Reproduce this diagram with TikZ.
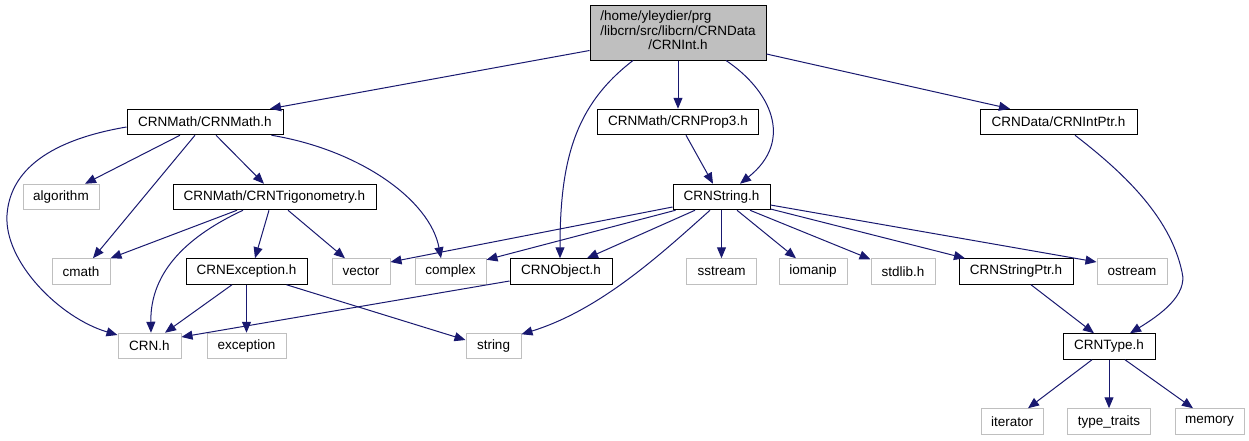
\documentclass[tikz,border=0pt]{standalone}
\usepackage{fontspec}
\setmainfont{Liberation Sans}
\usetikzlibrary{arrows.meta}
\definecolor{edgeblue}{HTML}{191970}
\definecolor{graybd}{HTML}{BFBFBF}
\begin{document}
\begin{tikzpicture}[x=1pt,y=-1pt,
  font=\fontsize{13.5}{14.5}\selectfont,
  file/.style={draw=black,line width=1pt,fill=white,minimum height=25.5pt,inner sep=0pt},
  sys/.style={draw=graybd,line width=1pt,fill=white,minimum height=25.5pt,inner sep=0pt},
  dep/.style={draw=edgeblue,line width=1pt,-{Triangle[length=11pt,width=9pt]}}]
\useasboundingbox[fill=white] (0,0) rectangle (1249,440);
% nodes
\node[draw=black,line width=1pt,fill=graybd,minimum width=176pt,minimum height=55pt,inner sep=0pt] (top) at (678,32.5)
  {\renewcommand{\arraystretch}{1}\begin{tabular}{@{}l@{}}/home/yleydier/prg\\/libcrn/src/libcrn/CRNData\\\multicolumn{1}{@{}c@{}}{/CRNInt.h}\end{tabular}};
\node[file,minimum width=156pt] (math) at (205,122) {CRNMath/CRNMath.h};
\node[file,minimum width=161pt] (prop3) at (678,122) {CRNMath/CRNProp3.h};
\node[file,minimum width=157pt] (intptr) at (1058.5,122) {CRNData/CRNIntPtr.h};
\node[sys,minimum width=76pt] (algorithm) at (61,197) {algorithm};
\node[file,minimum width=203pt] (trig) at (274.5,197) {CRNMath/CRNTrigonometry.h};
\node[file,minimum width=97pt] (strh) at (721.5,197) {CRNString.h};
\node[sys,minimum width=58pt] (cmath) at (81,271.5) {cmath};
\node[file,minimum width=121pt] (exc) at (246.5,271.5) {CRNException.h};
\node[sys,minimum width=58pt] (vector) at (361,271.5) {vector};
\node[sys,minimum width=71pt] (complex) at (450.5,271.5) {complex};
\node[file,minimum width=102pt] (object) at (561,271.5) {CRNObject.h};
\node[sys,minimum width=70pt] (sstream) at (721.5,271.5) {sstream};
\node[sys,minimum width=68pt] (iomanip) at (813,271.5) {iomanip};
\node[sys,minimum width=64pt] (stdlib) at (903,271.5) {stdlib.h};
\node[file,minimum width=114pt] (strptr) at (1016,271.5) {CRNStringPtr.h};
\node[sys,minimum width=70pt] (ostream) at (1132,271.5) {ostream};
\node[sys,minimum width=63pt] (crnh) at (149.5,346) {CRN.h};
\node[sys,minimum width=79pt] (exception) at (246.5,346) {exception};
\node[sys,minimum width=55pt] (string) at (493.5,346) {string};
\node[file,minimum width=92pt] (type) at (1109,346.5) {CRNType.h};
\node[sys,minimum width=62pt] (iterator) at (1012,421.5) {iterator};
\node[sys,minimum width=83pt] (typetraits) at (1109,421.5) {type\_traits};
\node[sys,minimum width=69pt] (memory) at (1209.5,421.5) {memory};
% edges from top
\draw[dep] ([yshift=-18pt]top.west) -- ([xshift=65pt]math.north);
\draw[dep] ([xshift=-45pt]top.south) .. controls (575,105) and (560,160) .. ([xshift=-1pt]object.north);
\draw[dep] (top.south) -- (prop3.north);
\draw[dep] ([xshift=48pt]top.south) .. controls (770,90) and (795,140) .. ([xshift=18.5pt]strh.north);
\draw[dep] ([yshift=-21.5pt]top.east) -- ([xshift=-48.5pt]intptr.north);
\draw[dep] ([xshift=8pt]prop3.south) -- ([xshift=-8.5pt]strh.north);
\draw[dep] ([xshift=16.5pt]intptr.south) .. controls (1120,170) and (1170,215) .. (1182,272)
  .. controls (1188,295) and (1160,315) .. ([xshift=21pt]type.north);
\draw[dep] ([xshift=15pt]strptr.south) -- ([xshift=-15pt]type.north);
\draw[dep] ([xshift=-17pt]type.south) -- ([xshift=16pt]iterator.north);
\draw[dep] (type.south) -- (typetraits.north);
\draw[dep] ([xshift=16pt]type.south) -- ([xshift=-16.5pt]memory.north);
% CRNString.h
\draw[dep] ([yshift=-10pt]strh.west) -- ([yshift=9.5pt]vector.east);
\draw[dep] ([xshift=3pt]strh.south west) -- ([yshift=-1.5pt]complex.north east);
\draw[dep] ([xshift=-26.5pt]strh.south) -- ([xshift=26pt]object.north);
\draw[dep] ([xshift=-11.5pt]strh.south) .. controls (660,255) and (600,310) .. ([yshift=-1.5pt]string.north east);
\draw[dep] (strh.south) -- (sstream.north);
\draw[dep] ([xshift=15.5pt]strh.south) -- ([xshift=-17pt]iomanip.north);
\draw[dep] ([xshift=28.5pt]strh.south) -- ([yshift=-1pt]stdlib.north west);
\draw[dep] ([yshift=-12pt]strh.east) -- ([xshift=-51pt]strptr.north);
\draw[dep] ([yshift=-8pt]strh.east) -- ([yshift=9.5pt]ostream.west);
% CRNMath.h
\draw[dep] ([yshift=-5pt]math.west) .. controls (50,140) and (10,170) .. (7,215)
  .. controls (4,262) and (60,318) .. ([yshift=11pt]crnh.west);
\draw[dep] ([xshift=-25pt]math.south) -- ([xshift=24pt]algorithm.north);
\draw[dep] ([xshift=-10pt]math.south) -- ([xshift=12pt]cmath.north);
\draw[dep] ([xshift=11pt]math.south) -- ([xshift=-10.5pt]trig.north);
\draw[dep] ([xshift=-12pt]math.south east) .. controls (360,150) and (430,200) .. ([xshift=-9.5pt]complex.north);
% Trigonometry
\draw[dep] ([xshift=-37.5pt]trig.south) -- (cmath.north east);
\draw[dep] ([xshift=-31.5pt]trig.south) .. controls (190,235) and (150,270) .. ([xshift=1.5pt]crnh.north);
\draw[dep] ([xshift=-5.5pt]trig.south) -- ([xshift=8.5pt]exc.north);
\draw[dep] ([xshift=13.5pt]trig.south) -- ([xshift=-16pt]vector.north);
% CRNException.h
\draw[dep] ([xshift=-14.5pt]exc.south) -- ([xshift=15.5pt]crnh.north);
\draw[dep] (exc.south) -- (exception.north);
\draw[dep] ([xshift=-21pt]exc.south east) -- ([yshift=6pt]string.west);
% CRNObject.h
\draw[dep] ([yshift=-9.5pt]object.west) -- ([yshift=9pt]crnh.east);
\end{tikzpicture}
\end{document}
